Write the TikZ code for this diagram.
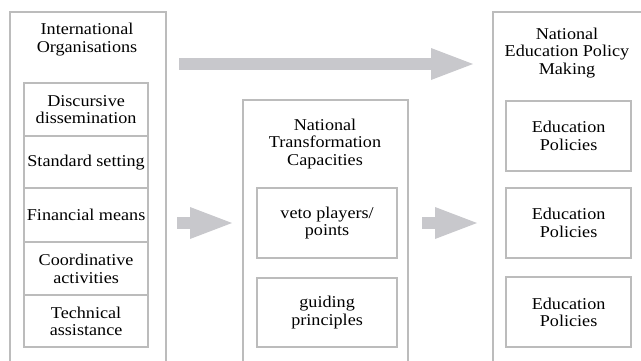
\documentclass[tikz,border=0pt]{standalone}
\usepackage{fontspec}
\setmainfont{Liberation Serif}[FakeStretch=1.1]
\usetikzlibrary{arrows.meta}
\definecolor{boxgray}{RGB}{188,188,188}
\definecolor{arrgray}{RGB}{200,200,204}
\begin{document}
\begin{tikzpicture}[x=1pt,y=-1pt,
  frame/.style={draw=boxgray, line width=2.2pt, inner sep=0pt, anchor=north west},
  lbl/.style={font=\fontsize{16.5}{17.5}\selectfont, align=center, inner sep=0pt, text=black},
  bigarrow/.style={draw=arrgray, line width=12.5pt, -{Triangle[length=42pt,width=32pt,line width=0pt]}}]
\useasboundingbox (0,0) rectangle (641,360);
\clip (0,0) rectangle (641,360);
% outer frames
\node[frame, minimum width=156pt, minimum height=370pt] (io) at (9,11) {};
\node[frame, minimum width=165pt, minimum height=290pt] (ntc) at (242,99) {};
\node[frame, minimum width=151pt, minimum height=370pt] (epm) at (492,11) {};
% titles
\node[lbl] (iot) at (87,39.5) {International\\Organisations};
\node[lbl] (ntct) at (325,144) {National\\Transformation\\Capacities};
\node[lbl] (epmt) at (567,53) {National\\Education Policy\\Making};
% left cells
\node[frame, lbl, minimum width=124pt, minimum height=53pt] (c1) at (23,82) {Discursive\\dissemination};
\node[frame, lbl, minimum width=124pt, minimum height=52pt] (c2) at (23,135) {Standard setting};
\node[frame, lbl, minimum width=124pt, minimum height=54pt] (c3) at (23,187) {Financial means};
\node[frame, lbl, minimum width=124pt, minimum height=53pt] (c4) at (23,241) {Coordinative\\activities};
\node[frame, lbl, minimum width=124pt, minimum height=52pt] (c5) at (23,294) {Technical\\assistance};
% middle cells
\node[frame, lbl, minimum width=140pt, minimum height=70pt] (m1) at (256,187) {veto players/\\points};
\node[frame, lbl, minimum width=140pt, minimum height=69pt] (m2) at (256,277) {guiding\\principles};
% right cells
\node[frame, lbl, minimum width=125pt, minimum height=70pt] (r1) at (505,100) {Education\\Policies};
\node[frame, lbl, minimum width=125pt, minimum height=70pt] (r2) at (505,187) {Education\\Policies};
\node[frame, lbl, minimum width=125pt, minimum height=70pt] (r3) at (505,276) {Education\\Policies};
% arrows
\coordinate (ya) at (0,64);
\coordinate (yb) at (0,223);
\draw[bigarrow, shorten <=12pt, shorten >=19pt] (io.east |- ya) -- (epm.west |- ya);
\draw[bigarrow, shorten <=10pt, shorten >=10pt] (io.east |- yb) -- (ntc.west |- yb);
\draw[bigarrow, shorten <=13pt, shorten >=15pt] (ntc.east |- yb) -- (epm.west |- yb);
\end{tikzpicture}
\end{document}
